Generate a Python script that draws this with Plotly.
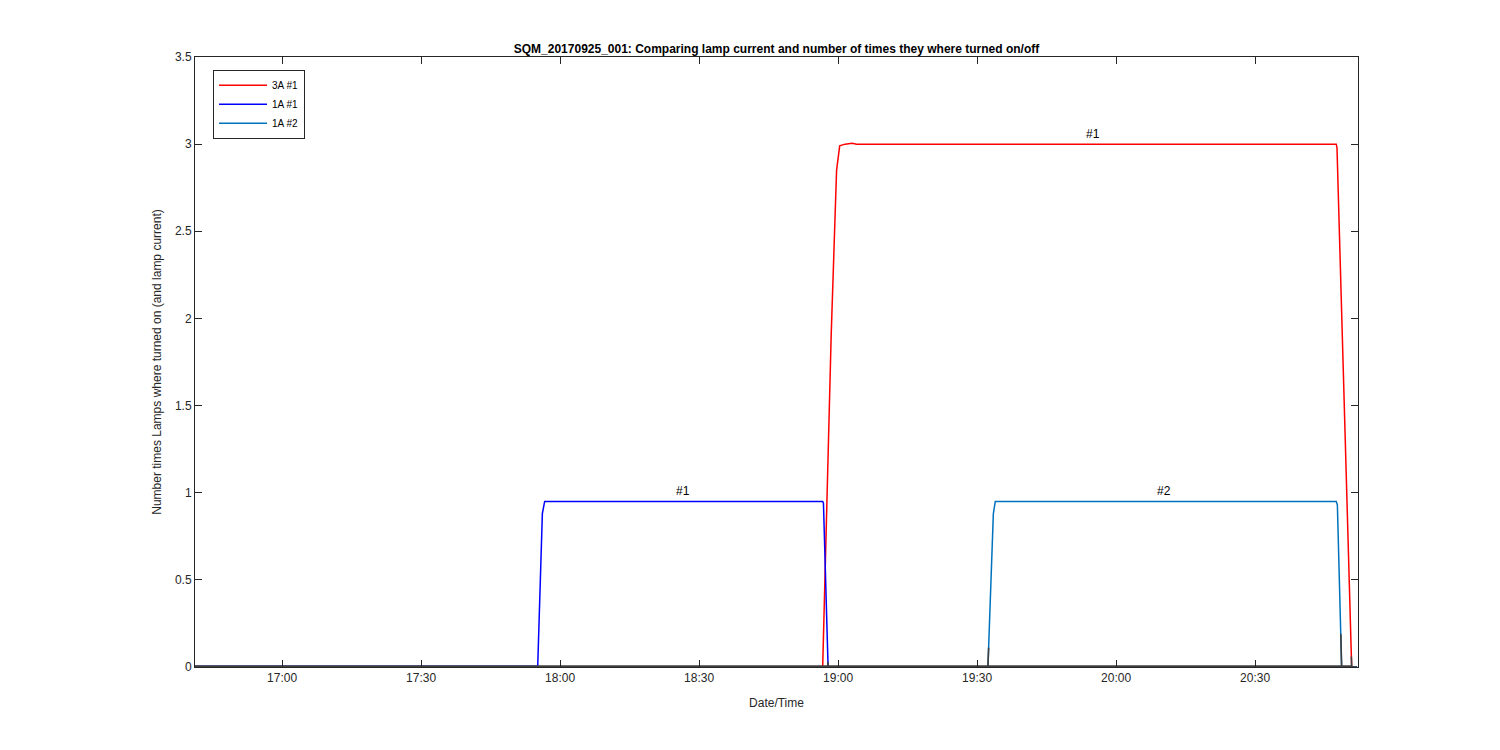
import plotly.graph_objects as go

DAY = "2017-09-25 "

# 3A #1 (red)
t_3a1 = ["16:41:00", "18:56:40", "18:58:30", "18:59:40", "19:00:20", "19:01:30", "19:03:00", "19:04:00",
         "20:47:30", "20:47:40", "20:50:50"]
v_3a1 = [0.0, 0.0, 1.9, 2.85, 2.99, 3.0, 3.005, 3.0, 3.0, 2.98, 0.0]

# 1A #1 (blue)
t_1a1 = ["16:41:00", "17:55:10", "17:56:10", "17:56:40", "18:56:40", "18:56:50", "18:57:50", "20:52:00"]
v_1a1 = [0.005, 0.005, 0.88, 0.95, 0.95, 0.94, 0.0, 0.0]

# 1A #2 (teal)
t_1a2 = ["16:41:00", "19:32:20", "19:33:30", "19:33:55", "20:47:30", "20:47:45", "20:48:40", "20:52:00"]
v_1a2 = [0.0, 0.0, 0.88, 0.95, 0.95, 0.93, 0.0, 0.0]

# dark baseline trace (drawn on top, overlapping the feet of the transitions)
t_base = ["16:41:00", "18:57:50", "18:57:48", "18:57:50", "19:32:20", "19:32:29", "19:32:20",
          "20:48:40", "20:48:29", "20:48:40", "20:50:50", "20:50:46", "20:50:50", "20:52:00"]
v_base = [0.005, 0.005, 0.03, 0.005, 0.005, 0.11, 0.005,
          0.005, 0.19, 0.005, 0.005, 0.06, 0.0, 0.0]

labels_txt = ["#1", "#1", "#2"]
labels_t = ["18:26:30", "19:55:00", "20:10:20"]
labels_v = [0.95, 3.0, 0.95]

def ts(lst):
    return [DAY + s for s in lst]

fig = go.Figure()
fig.add_trace(go.Scatter(x=ts(t_3a1), y=v_3a1, mode="lines", name="3A #1",
                         line=dict(color="#FF0000", width=1.5)))
fig.add_trace(go.Scatter(x=ts(t_1a1), y=v_1a1, mode="lines", name="1A #1",
                         line=dict(color="#0000FF", width=1.5)))
fig.add_trace(go.Scatter(x=ts(t_1a2), y=v_1a2, mode="lines", name="1A #2",
                         line=dict(color="#0072BD", width=1.5)))
fig.add_trace(go.Scatter(x=ts(t_base), y=v_base, mode="lines", showlegend=False,
                         line=dict(color="#404040", width=1.6)))

for txt, t, v in zip(labels_txt, labels_t, labels_v):
    fig.add_annotation(x=DAY + t, y=v, text=txt, showarrow=False, yanchor="bottom",
                       yshift=1, font=dict(size=12, color="#000000"))

axis_common = dict(showline=True, linecolor="#262626", linewidth=1, mirror="ticks",
                   ticks="inside", ticklen=7, tickcolor="#262626", showgrid=False,
                   zeroline=False, tickfont=dict(size=12, color="#262626"))

fig.update_layout(
    width=1500, height=750,
    margin=dict(l=187, r=150, t=49, b=91),
    paper_bgcolor="white", plot_bgcolor="white",
    font=dict(family="Liberation Sans, Arial, sans-serif", color="#262626"),
    title=dict(text="<b>SQM_20170925_001: Comparing lamp current and number of times they where turned on/off</b>",
               x=0.5, xref="paper", xanchor="center", y=0.94, yref="container", yanchor="bottom",
               font=dict(size=12, color="#000000")),
    xaxis=dict(type="date", range=[DAY + "16:41:12", DAY + "20:52:12"],
               tick0=DAY + "17:00:00", dtick=1800000, tickformat="%H:%M",
               title=dict(text="Date/Time", font=dict(size=12), standoff=14), **axis_common),
    yaxis=dict(range=[0, 3.5], tick0=0, dtick=0.5,
               title=dict(text="Number times Lamps where turned on (and lamp current)", font=dict(size=12), standoff=10),
               **axis_common),
    legend=dict(x=0.0155, y=0.979, xanchor="left", yanchor="top", bgcolor="white",
                bordercolor="#262626", borderwidth=1, font=dict(size=10, color="#000000"),
                itemwidth=48, tracegroupgap=0),
    showlegend=True,
)

fig.write_html("out.html")
